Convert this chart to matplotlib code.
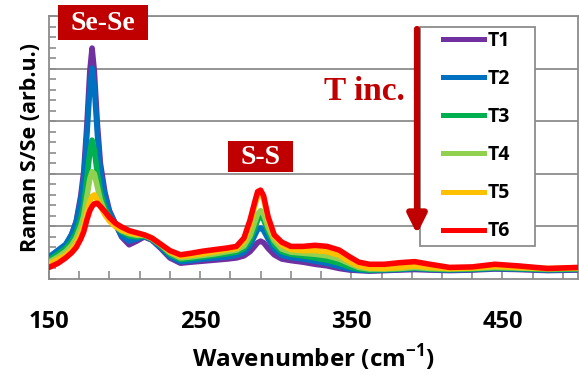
import matplotlib.pyplot as plt
from matplotlib.patches import Rectangle, FancyArrowPatch
from matplotlib.lines import Line2D

# Raman spectra S/Se, six temperatures
wavenumber = [150, 156, 161, 165, 168, 171, 173, 175, 177, 178.5, 180, 182, 184, 187, 190, 194, 198,
              203, 208, 213, 218, 224, 230, 237, 244, 252, 260, 268, 274, 279, 283, 286, 288, 290,
              292, 295, 299, 304, 310, 318, 326, 334, 342, 349, 355, 362, 372, 382, 392, 402, 415,
              430, 445, 460, 480, 500]

T1 = [0.40, 0.50, 0.62, 0.85, 1.10, 1.58, 2.05, 2.90, 3.95, 4.39, 3.95, 2.95, 2.20, 1.65, 1.30, 1.05, 0.80,
      0.65, 0.72, 0.80, 0.74, 0.58, 0.40, 0.30, 0.32, 0.34, 0.36, 0.38, 0.40, 0.44, 0.52, 0.62, 0.69, 0.72,
      0.69, 0.58, 0.46, 0.38, 0.35, 0.32, 0.28, 0.25, 0.20, 0.17, 0.16, 0.15, 0.16, 0.17, 0.18, 0.17, 0.16,
      0.17, 0.19, 0.18, 0.16, 0.17]
T2 = [0.42, 0.55, 0.66, 0.85, 1.08, 1.50, 1.92, 2.70, 3.62, 4.01, 3.65, 2.75, 2.05, 1.58, 1.27, 1.04, 0.82,
      0.72, 0.76, 0.81, 0.75, 0.60, 0.43, 0.33, 0.35, 0.38, 0.40, 0.42, 0.45, 0.51, 0.64, 0.82, 0.94, 0.97,
      0.92, 0.76, 0.57, 0.45, 0.41, 0.38, 0.34, 0.30, 0.24, 0.19, 0.17, 0.16, 0.17, 0.18, 0.20, 0.18, 0.17,
      0.18, 0.20, 0.19, 0.17, 0.18]
T3 = [0.36, 0.48, 0.58, 0.72, 0.88, 1.15, 1.40, 1.90, 2.40, 2.64, 2.45, 2.00, 1.65, 1.35, 1.17, 1.02, 0.90,
      0.82, 0.80, 0.82, 0.76, 0.63, 0.47, 0.37, 0.39, 0.42, 0.45, 0.48, 0.51, 0.58, 0.74, 0.96, 1.12, 1.20,
      1.13, 0.90, 0.66, 0.52, 0.47, 0.44, 0.40, 0.36, 0.30, 0.23, 0.19, 0.17, 0.18, 0.19, 0.21, 0.19, 0.18,
      0.19, 0.21, 0.20, 0.18, 0.19]
T4 = [0.32, 0.42, 0.52, 0.64, 0.78, 1.00, 1.20, 1.55, 1.90, 2.04, 2.00, 1.75, 1.50, 1.27, 1.12, 1.00, 0.92,
      0.86, 0.83, 0.83, 0.77, 0.65, 0.50, 0.40, 0.42, 0.45, 0.48, 0.52, 0.55, 0.63, 0.82, 1.07, 1.23, 1.30,
      1.23, 0.98, 0.73, 0.57, 0.51, 0.49, 0.47, 0.44, 0.38, 0.29, 0.22, 0.19, 0.19, 0.20, 0.22, 0.20, 0.19,
      0.20, 0.22, 0.21, 0.19, 0.20]
T5 = [0.28, 0.37, 0.45, 0.56, 0.68, 0.86, 1.02, 1.25, 1.48, 1.57, 1.60, 1.50, 1.38, 1.22, 1.10, 1.00, 0.93,
      0.88, 0.85, 0.84, 0.78, 0.66, 0.52, 0.43, 0.45, 0.48, 0.52, 0.56, 0.58, 0.72, 1.02, 1.38, 1.58, 1.64,
      1.52, 1.12, 0.80, 0.65, 0.56, 0.54, 0.54, 0.52, 0.45, 0.33, 0.25, 0.21, 0.20, 0.22, 0.25, 0.22, 0.20,
      0.21, 0.24, 0.22, 0.20, 0.21]
T6 = [0.22, 0.30, 0.40, 0.50, 0.60, 0.76, 0.90, 1.12, 1.30, 1.38, 1.43, 1.44, 1.38, 1.28, 1.17, 1.06, 0.99,
      0.92, 0.88, 0.84, 0.78, 0.66, 0.54, 0.46, 0.49, 0.53, 0.56, 0.59, 0.62, 0.78, 1.12, 1.45, 1.66, 1.69,
      1.58, 1.18, 0.84, 0.70, 0.62, 0.62, 0.64, 0.62, 0.55, 0.42, 0.32, 0.28, 0.28, 0.31, 0.33, 0.28, 0.22,
      0.23, 0.28, 0.25, 0.20, 0.22]

series = [T1, T2, T3, T4, T5, T6]
names = ["T1", "T2", "T3", "T4", "T5", "T6"]
colors = ["#7030A0", "#0070C0", "#00B050", "#92D050", "#FFC000", "#FF0000"]

plt.rcParams['font.family'] = ['Open Sans', 'DejaVu Sans']
plt.rcParams['mathtext.fontset'] = 'custom'
plt.rcParams['mathtext.rm'] = 'Open Sans'
plt.rcParams['mathtext.bf'] = 'Open Sans:bold'

W, H = 579, 378
fig = plt.figure(figsize=(W / 100, H / 100), dpi=100)
ax = fig.add_axes([49 / W, 1 - 279 / H, (578 - 49) / W, (279 - 16) / H])

for y, c in zip(series, colors):
    ax.plot(wavenumber, y, color=c, lw=4.0, solid_capstyle='round', solid_joinstyle='round', zorder=3)

ax.set_xlim(150, 500)
ax.set_ylim(0, 5)
ax.set_xticks([150, 250, 350, 450])
ax.set_xticks(range(170, 500, 20), minor=True)
ax.set_yticks([1, 2, 3, 4, 5])
ax.set_yticks([k * 0.2 for k in range(25)], minor=True)
ax.set_yticklabels([])
ax.grid(axis='y', color='#8c8c8c', lw=1.3, zorder=1)
ax.tick_params(axis='both', which='both', direction='in', color='#8c8c8c', width=1.2)
ax.tick_params(axis='x', which='both', length=6, labelsize=17, pad=22)
ax.tick_params(axis='y', which='both', length=5)
for lab in ax.get_xticklabels():
    lab.set_fontweight('bold')
for s in ax.spines.values():
    s.set_color('#8c8c8c')
    s.set_linewidth(1.3)

ax.set_xlabel(r"Wavenumber (cm$^{\mathbf{-1}}$)", fontsize=17.5, fontweight='bold', labelpad=6)
ax.set_ylabel("Raman S/Se (arb.u.)", fontsize=15.5, fontweight='bold', labelpad=2)

# peak labels
dark_red = "#C00000"
fig.patches.append(Rectangle((58 / W, 1 - 40 / H), 90 / W, 35 / H, transform=fig.transFigure,
                             facecolor=dark_red, edgecolor='none', zorder=5))
fig.text(103 / W, 1 - 23 / H, "Se-Se", color='white', fontsize=20, fontweight='bold',
         family='Liberation Serif', ha='center', va='center', zorder=6)
fig.patches.append(Rectangle((228 / W, 1 - 172 / H), 65 / W, 31 / H, transform=fig.transFigure,
                             facecolor=dark_red, edgecolor='none', zorder=5))
fig.text(260.5 / W, 1 - 157 / H, "S-S", color='white', fontsize=20, fontweight='bold',
         family='Liberation Serif', ha='center', va='center', zorder=6)

# legend box
fig.patches.append(Rectangle((420 / W, 1 - 246 / H), 115 / W, 219 / H, transform=fig.transFigure,
                             facecolor='white', edgecolor='#8c8c8c', lw=1.3, zorder=4))
handles = [Line2D([], [], color=c, lw=3.6) for c in colors]
leg = fig.legend(handles, names, loc='upper left', bbox_to_anchor=(443 / W, 1 - 31 / H),
                 frameon=False, fontsize=14, handlelength=2.1, handletextpad=0.2,
                 labelspacing=0.93, borderpad=0, borderaxespad=0)
leg.set_zorder(5)
for t in leg.get_texts():
    t.set_fontweight('bold')

# temperature arrow, drawn over the legend frame
fig.text(364 / W, 1 - 92 / H, "T inc.", color=dark_red, fontsize=24, fontweight='bold',
         family='Liberation Serif', ha='center', va='center')
arrow = FancyArrowPatch((417 / W, 1 - 29 / H), (417 / W, 1 - 234 / H), transform=fig.transFigure,
                        arrowstyle='-|>', color=dark_red, lw=4.5, mutation_scale=28,
                        shrinkA=0, shrinkB=0, zorder=8)
fig.patches.append(arrow)

fig.savefig("out.png", dpi=100)
